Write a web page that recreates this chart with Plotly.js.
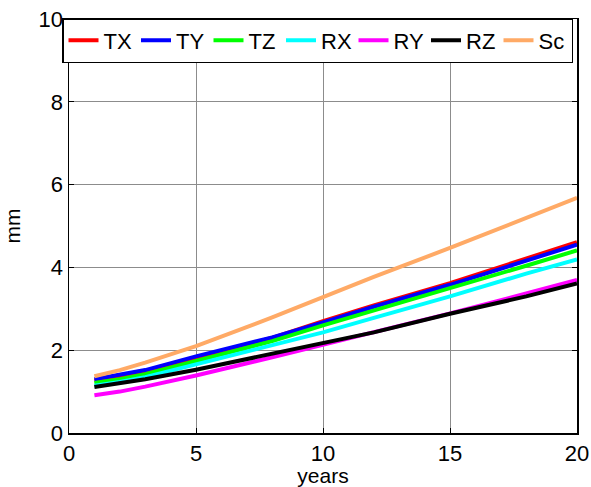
<!DOCTYPE html>
<html><head><meta charset="utf-8">
<script src="https://cdn.plot.ly/plotly-3.0.1.min.js"></script>
<style>html,body{margin:0;padding:0;background:#fff;}#chart{width:591px;height:487px;}</style>
</head><body><div id="chart"></div>
<script>
const years = [1, 2, 3, 5, 8, 10, 12, 15, 18, 20];
const seriesNames = ["TX", "TY", "TZ", "RX", "RY", "RZ", "Sc"];
const TX = [1.27, 1.36, 1.47, 1.80, 2.30, 2.70, 3.08, 3.62, 4.22, 4.61];
const TY = [1.30, 1.40, 1.52, 1.85, 2.31, 2.67, 3.05, 3.58, 4.17, 4.55];
const TZ = [1.21, 1.30, 1.42, 1.74, 2.22, 2.60, 2.96, 3.48, 4.04, 4.41];
const RX = [1.14, 1.23, 1.35, 1.66, 2.10, 2.43, 2.78, 3.30, 3.85, 4.19];
const RY = [0.91, 1.00, 1.12, 1.39, 1.83, 2.13, 2.43, 2.89, 3.37, 3.70];
const RZ = [1.11, 1.20, 1.30, 1.53, 1.92, 2.18, 2.43, 2.88, 3.30, 3.61];
const Sc = [1.37, 1.52, 1.70, 2.10, 2.79, 3.28, 3.77, 4.47, 5.20, 5.68];
const xTicks = [0, 5, 10, 15, 20];
const yTicks = [0, 2, 4, 6, 8, 10];
const colors = ["#ff0000", "#0000ff", "#00ff00", "#00ffff", "#ff00ff", "#000000", "#ffaa66"];
const values = [TX, TY, TZ, RX, RY, RZ, Sc];

const font = "Arial, 'Liberation Sans', sans-serif";
const traces = seriesNames.map((n, i) => ({
  x: years, y: values[i], name: n, type: "scatter", mode: "lines",
  line: {color: colors[i], width: 4}
}));

const axisCommon = {
  showline: true, linecolor: "#000", linewidth: 1.5, mirror: "allticks",
  ticks: "inside", ticklen: 5, tickcolor: "#000", tickwidth: 1,
  showgrid: true, gridcolor: "#8c8c8c", gridwidth: 1, zeroline: false,
  tickfont: {family: font, size: 22, color: "#000"}
};

const layout = {
  width: 591, height: 487,
  margin: {l: 68.5, r: 14.3, t: 19, b: 53.7, autoexpand: false},
  paper_bgcolor: "#fff", plot_bgcolor: "#fff",
  font: {family: font, size: 22, color: "#000"},
  xaxis: Object.assign({}, axisCommon, {
    range: [0, 20], tickvals: xTicks, ticktext: xTicks.map(String),
    title: {text: "years", font: {family: font, size: 21, color: "#000"}, standoff: 0}
  }),
  yaxis: Object.assign({}, axisCommon, {
    range: [0, 10], tickvals: yTicks, ticktext: yTicks.map(String),
    title: {text: "mm", font: {family: font, size: 21, color: "#000"}, standoff: 12}
  }),
  showlegend: true,
  legend: {
    orientation: "h", xref: "container", yref: "container",
    x: 62 / 591, xanchor: "left", y: 1 - 18 / 487, yanchor: "top",
    bgcolor: "#fff", bordercolor: "#000", borderwidth: 1.5,
    font: {family: font, size: 22, color: "#000"},
    entrywidth: 27.5, entrywidthmode: "pixels",
    itemwidth: 30, tracegroupgap: 0
  }
};

Plotly.newPlot("chart", traces, layout, {displayModeBar: false, staticPlot: true});
</script></body></html>
